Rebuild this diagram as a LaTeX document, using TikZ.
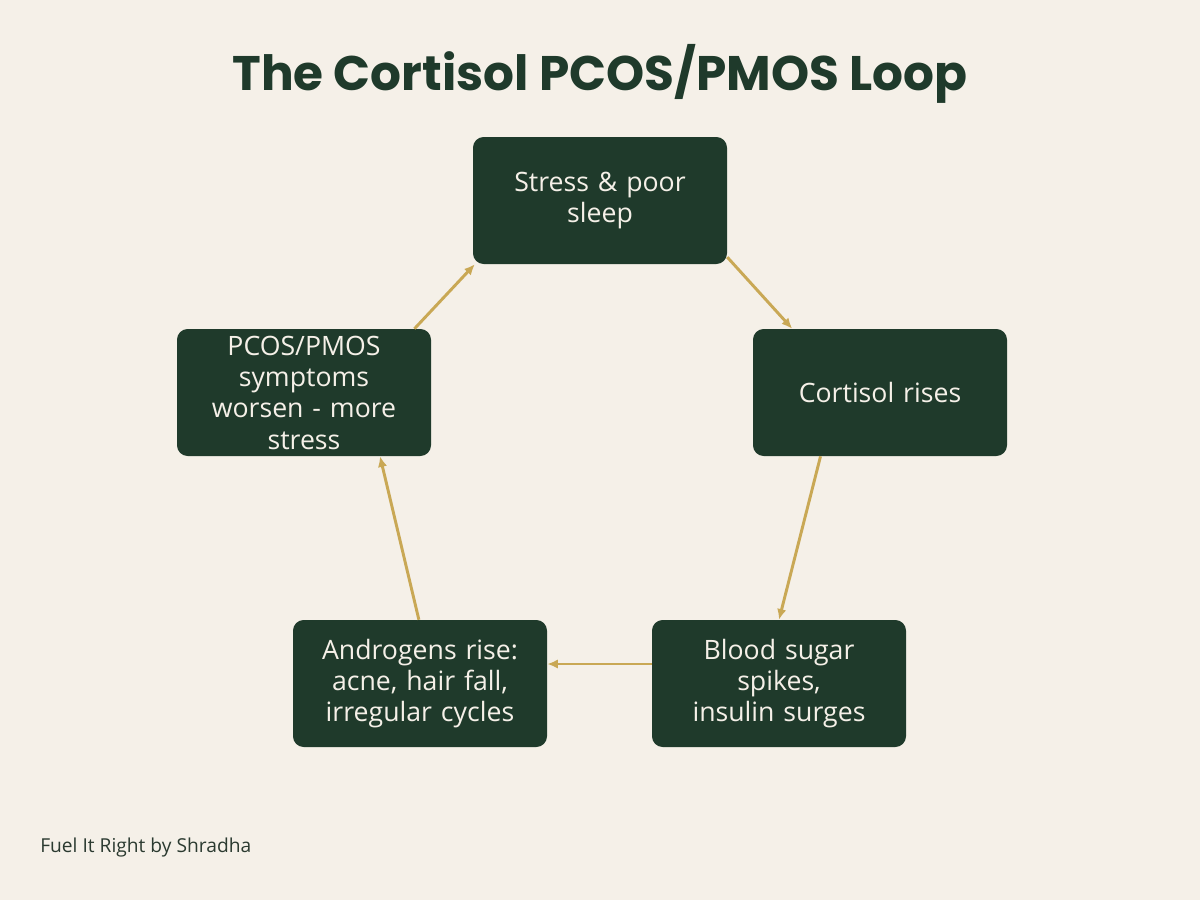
\documentclass[tikz,border=0pt]{standalone}
\usepackage{fontspec}
\setmainfont{Open Sans}
\newfontfamily\titlefont{Poppins}
\usetikzlibrary{arrows.meta,calc}
\definecolor{bg}{HTML}{F5F0E8}
\definecolor{boxgreen}{HTML}{1F3A2B}
\definecolor{gold}{HTML}{C9A855}
\definecolor{foot}{HTML}{2B3A30}
\begin{document}
\begin{tikzpicture}[x=0.75pt,y=-0.75pt,
  stepbox/.style={fill=boxgreen,rounded corners=8pt,minimum width=190.5pt,minimum height=95.25pt,
    text=bg,align=center,font=\fontsize{20}{23.5}\selectfont,inner sep=0pt,text width=180pt},
  conn/.style={draw=gold,line width=2.2pt,-{Latex[length=8pt,width=7pt]}}]
\fill[bg] (0,0) rectangle (1200,900);
\useasboundingbox (0,0) rectangle (1200,900);
\node[font=\titlefont\bfseries\fontsize{36.4}{42}\selectfont,text=boxgreen] (title) at (600,74) {The Cortisol PCOS/PMOS Loop};
\node[stepbox] (top) at (600,200.5) {Stress \& poor\\sleep};
\node[stepbox] (right) at (880,392.5) {Cortisol rises};
\node[stepbox] (br) at (779,683.5) {Blood sugar\\spikes,\\insulin surges};
\node[stepbox] (bl) at (420,683.5) {Androgens rise:\\acne, hair fall,\\irregular cycles};
\node[stepbox] (left) at (304,392.5) {PCOS/PMOS\\symptoms\\worsen - more\\stress};
\node[anchor=west,inner sep=0pt,font=\fontsize{14.4}{17}\selectfont,text=foot] (footer) at (40,848) {Fuel It Right by Shradha};
\draw[conn] (top.-24.4) -- (right.144.8);
\draw[conn] (right.227.6) -- (br.90);
\draw[conn] ($(br.west)+(0,-19.5)$) -- ($(bl.east)+(0,-19.5)$);
\draw[conn] (bl.91) -- (left.-40.3);
\draw[conn] (left.30) -- (top.207.3);
\end{tikzpicture}
\end{document}
